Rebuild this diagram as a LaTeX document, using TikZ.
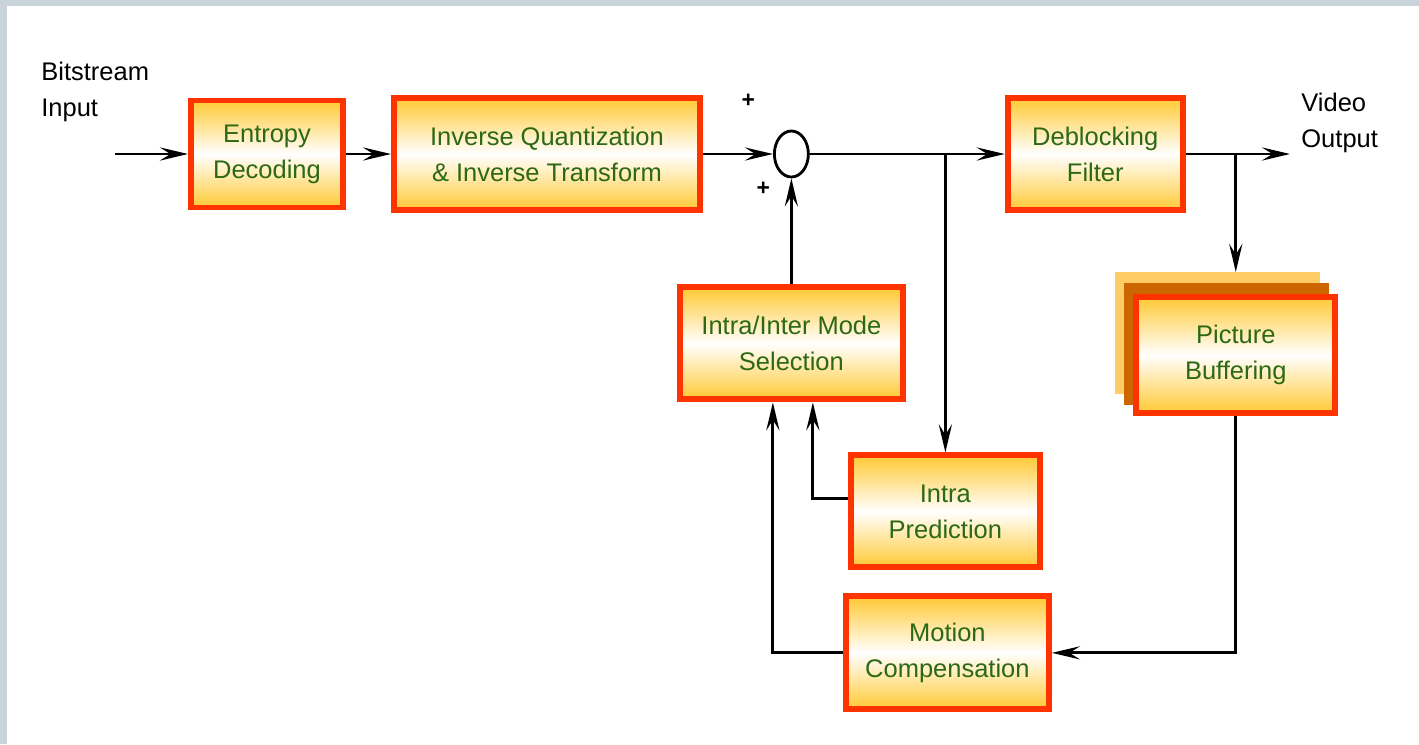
\documentclass[tikz,border=0pt]{standalone}
\usepackage{fontspec}
\setmainfont{Liberation Sans}
\usetikzlibrary{positioning,shapes.geometric,arrows.meta}
\definecolor{boxred}{RGB}{255,51,0}
\definecolor{boxgold}{RGB}{255,201,51}
\definecolor{textgreen}{RGB}{45,105,20}
\definecolor{layerdark}{RGB}{204,102,0}
\definecolor{layerlight}{RGB}{255,204,102}
\definecolor{framegray}{RGB}{201,211,218}
\tikzset{
  block/.style={draw=boxred,line width=3.4pt,top color=boxgold,bottom color=boxgold,
    middle color=white,text=textgreen,align=center,inner sep=0pt,
    font=\fontsize{14.5}{20.5}\selectfont},
  layer/.style={minimum width=4.10cm,minimum height=2.44cm,inner sep=0pt,outer sep=0pt},
  lbl/.style={align=left,inner sep=0pt,anchor=west,font=\fontsize{14.5}{20.5}\selectfont},
  sign/.style={inner sep=0pt,font=\bfseries\fontsize{13}{13}\selectfont}
}
\begin{document}
\begin{tikzpicture}[->,>={Stealth[length=16pt,width=7.5pt,inset=6pt]},line width=1.6pt]

\useasboundingbox (0,0) rectangle (28.38,-14.88);
\fill[framegray] (0,0) rectangle (28.38,-14.88);
\fill[white] (0.14,-0.12) rectangle (28.38,-14.88);

\node[block,minimum width=3.04cm,minimum height=2.14cm](ent) at (5.34,-3.08){Entropy\\Decoding};
\node[block,minimum width=6.12cm,minimum height=2.24cm](iqt)[right=0.9cm of ent]{Inverse Quantization\\\& Inverse Transform};
\node[draw,ellipse,minimum width=0.68cm,minimum height=0.92cm,inner sep=0pt](sum)[right=1.4cm of iqt]{};
\node[block,minimum width=3.50cm,minimum height=2.24cm](dbf)[right=3.90cm of sum]{Deblocking\\Filter};
\node[block,minimum width=4.46cm,minimum height=2.24cm](msel)[below=2.12cm of sum]{Intra/Inter Mode\\Selection};
\node[block,minimum width=3.78cm,minimum height=2.24cm](ipred)[below=1.0cm of msel,xshift=3.08cm]{Intra\\Prediction};
\node[block,minimum width=4.06cm,minimum height=2.26cm](mcomp)[below=0.46cm of ipred,xshift=0.04cm]{Motion\\Compensation};
\node[layer,fill=layerlight](pbufA)[below=1.18cm of dbf,xshift=2.44cm]{};
\node[layer,fill=layerdark](pbufB) at ([shift={(0.18,-0.22)}]pbufA.center){};
\node[block,minimum width=3.98cm,minimum height=2.32cm](pbuf) at ([shift={(0.37,-0.44)}]pbufA.center){Picture\\Buffering};

\node[lbl](bsin) at (0.80,-1.84){Bitstream\\Input};
\node[lbl](vout) at (26.0,-2.45){Video\\Output};
\node[sign](plusA) at ([shift={(-0.86,1.06)}]sum.center){+};
\node[sign](plusB) at ([shift={(-0.56,-0.70)}]sum.center){+};
\coordinate(in) at (2.30,-3.08);
\coordinate(out) at (25.8,-3.08);

\path (in)edge(ent)
  (ent)edge(iqt)
  (iqt)edge(sum)
  (sum)edge(dbf)
  (msel)edge(sum)
  (dbf)edge(out)
  (sum.east -| ipred.north)edge(ipred.north)
  (dbf.east -| pbuf.north)edge(pbufA.north -| pbuf.north);
\draw (pbuf.south) |- (mcomp.east);
\draw (mcomp.west) -| ([xshift=-0.37cm]msel.south);
\draw ([yshift=0.26cm]ipred.west) -| ([xshift=0.43cm]msel.south);

\end{tikzpicture}
\end{document}
